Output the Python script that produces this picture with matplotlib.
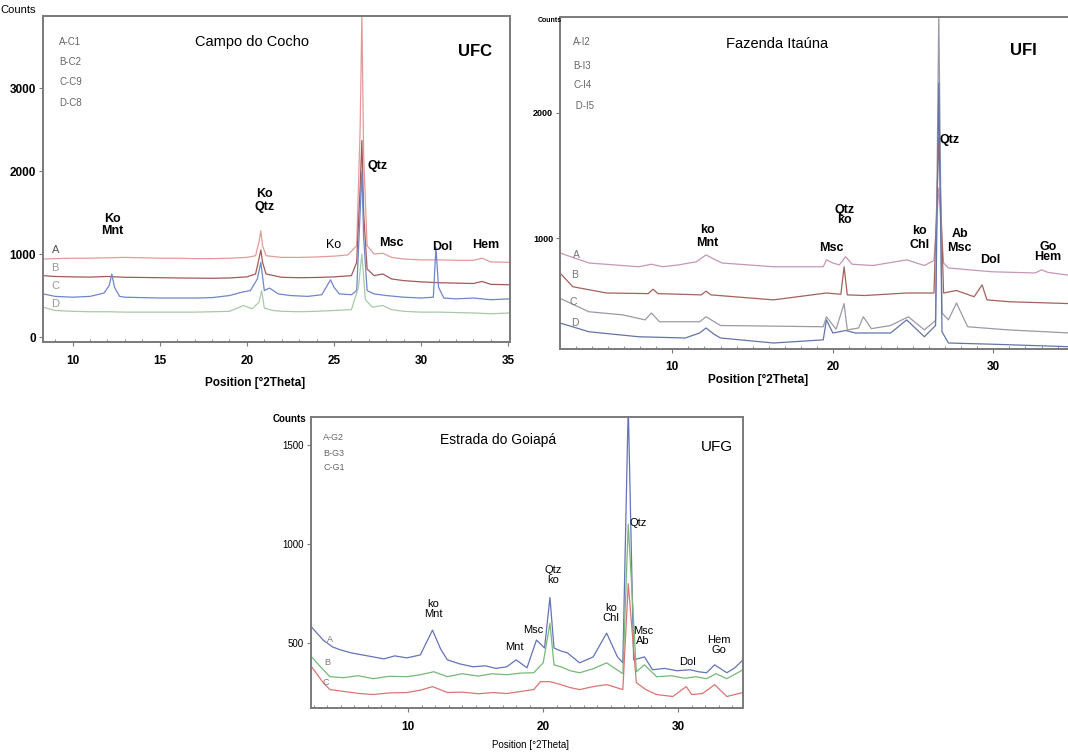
import matplotlib
matplotlib.use("Agg")
import matplotlib.pyplot as plt
from matplotlib.ticker import MultipleLocator

plt.rcParams["font.family"] = ["Liberation Sans Narrow", "Liberation Sans", "DejaVu Sans"]

# ---------------- Campo do Cocho (UFC) ----------------
ufc_a_x = [8.3, 9, 10, 11, 12, 13, 14, 15, 16, 17, 18, 19, 20, 20.5, 20.7, 20.8, 20.9, 21.1, 22, 23, 24, 25,
           25.8, 26.3, 26.5, 26.6, 26.7, 26.9, 27.3, 27.8, 28.3, 29, 30, 31, 32, 33, 33.5, 34, 35.1]
ufc_a_y = [940, 945, 950, 950, 955, 960, 955, 950, 950, 945, 945, 950, 960, 980, 1150, 1280, 1100, 980, 960, 960,
           965, 975, 990, 1100, 2500, 3900, 2200, 1100, 1000, 1010, 960, 940, 930, 930, 925, 925, 950, 905, 900]
ufc_b_x = [8.3, 9, 10, 11, 12, 13, 14, 15, 16, 17, 18, 19, 20, 20.5, 20.7, 20.8, 20.9, 21.1, 22, 23, 24, 25,
           26, 26.3, 26.5, 26.6, 26.7, 26.9, 27.3, 27.8, 28.3, 29, 30, 31, 32, 33, 33.5, 34, 35.1]
ufc_b_y = [740, 730, 725, 722, 730, 720, 718, 715, 712, 710, 708, 712, 725, 760, 950, 1050, 900, 760, 720, 715,
           718, 725, 740, 900, 1800, 2370, 1500, 820, 740, 760, 700, 680, 665, 655, 650, 645, 670, 635, 630]
ufc_c_x = [8.3, 9, 10, 11, 11.8, 12.1, 12.25, 12.4, 12.7, 13, 14, 15, 16, 17, 18, 19, 19.7, 20.2, 20.6, 20.8,
           21, 21.3, 21.8, 22.5, 23.5, 24.3, 24.8, 25.0, 25.3, 26, 26.3, 26.5, 26.6, 26.7, 26.9, 27.3, 28, 29,
           30, 30.7, 30.85, 31.0, 31.3, 32, 33, 34, 35.1]
ufc_c_y = [520, 490, 480, 490, 530, 620, 760, 600, 490, 480, 475, 470, 470, 470, 475, 500, 540, 560, 700, 900,
           560, 590, 520, 500, 490, 510, 690, 600, 520, 510, 560, 1500, 2000, 1200, 560, 520, 500, 480,
           470, 480, 1080, 600, 470, 460, 470, 450, 460]
ufc_d_x = [8.3, 9, 10, 11, 12, 13, 14, 15, 16, 17, 18, 19, 19.8, 20.3, 20.7, 20.85, 21, 21.5, 22, 23, 24, 25,
           26, 26.4, 26.6, 26.8, 27.2, 27.8, 28.3, 29, 30, 31, 32, 33, 34, 35.1]
ufc_d_y = [360, 320, 310, 305, 305, 300, 300, 300, 300, 300, 305, 310, 380, 340, 420, 560, 350, 320, 310, 305,
           310, 320, 330, 600, 1000, 450, 360, 380, 330, 310, 300, 300, 295, 290, 280, 290]

# ---------------- Fazenda Itaúna (UFI) ----------------
ufi_a_x = [3.0, 4.8, 7.9, 8.7, 9.4, 10.4, 11.5, 12.1, 12.6, 13.1, 16.3, 19.4, 19.6, 20.0, 20.4, 20.8, 21.2,
           22.5, 24.6, 25.7, 26.3, 26.6, 26.9, 27.2, 29.9, 32.6, 33.0, 33.4, 34.8]
ufi_a_y = [880, 800, 770, 790, 770, 785, 810, 865, 830, 800, 770, 770, 825, 800, 785, 850, 790,
           780, 825, 780, 820, 1400, 800, 760, 730, 720, 745, 725, 700]
ufi_b_x = [3.0, 3.8, 5.9, 8.5, 8.8, 9.1, 11.8, 12.1, 12.4, 16.3, 19.6, 20.5, 20.7, 20.9, 22.0, 24.6, 26.3,
           26.6, 26.9, 27.7, 28.8, 29.3, 29.6, 31.0, 34.8]
ufi_b_y = [720, 610, 560, 555, 590, 555, 545, 575, 545, 505, 560, 550, 770, 545, 540, 560, 560,
           1800, 560, 580, 530, 625, 505, 490, 475]
ufi_c_x = [3.0, 4.8, 6.9, 8.3, 8.7, 9.2, 11.7, 12.1, 13.0, 19.4, 19.6, 20.2, 20.7, 20.9, 21.6, 21.9, 22.4,
           23.6, 24.7, 25.7, 26.4, 26.6, 26.8, 27.2, 27.7, 28.4, 30.9, 34.8]
ufi_c_y = [517, 410, 385, 345, 400, 330, 330, 370, 300, 290, 370, 270, 475, 265, 280, 370, 275,
           300, 370, 265, 340, 2800, 400, 345, 480, 290, 265, 240]
ufi_d_x = [3.0, 4.8, 7.9, 10.8, 11.7, 12.1, 12.6, 13.0, 16.3, 19.4, 19.6, 20.0, 20.8, 21.4, 23.6, 24.6, 25.7,
           26.4, 26.6, 26.8, 27.2, 30.0, 34.8]
ufi_d_y = [320, 250, 210, 200, 240, 280, 230, 200, 160, 185, 345, 240, 260, 240, 240, 345, 210,
           300, 2240, 250, 160, 150, 130]

# ---------------- Estrada do Goiapá (UFG) ----------------
ufg_a_x = [2.85, 3.7, 4.4, 5.0, 5.8, 6.6, 7.4, 8.2, 9.0, 9.9, 10.9, 11.8, 12.4, 12.9, 13.8, 14.8, 15.7, 16.5,
           17.3, 18.0, 18.8, 19.5, 20.1, 20.5, 20.8, 21.3, 21.8, 22.7, 23.7, 24.7, 25.5, 25.9, 26.3, 26.7,
           27.5, 28.1, 29.0, 29.9, 30.9, 31.5, 32.1, 32.7, 33.6, 34.2, 34.8]
ufg_a_y = [580, 515, 480, 465, 450, 440, 430, 420, 435, 425, 440, 565, 470, 415, 395, 380, 385, 372,
           380, 415, 375, 515, 475, 730, 475, 460, 450, 400, 430, 550, 430, 400, 1700, 415,
           430, 365, 372, 360, 365, 355, 350, 390, 350, 375, 415]
ufg_b_x = [2.85, 3.5, 4.2, 5.2, 6.3, 7.4, 8.6, 9.9, 10.9, 11.9, 12.9, 14.0, 15.2, 16.2, 17.3, 18.3, 19.3, 20.0,
           20.5, 20.8, 21.3, 22.0, 22.7, 23.7, 24.7, 25.9, 26.3, 26.9, 27.5, 28.4, 29.5, 30.5, 31.3, 32.1,
           32.8, 33.6, 34.8]
ufg_b_y = [430, 380, 330, 325, 335, 320, 332, 330, 340, 355, 330, 345, 333, 345, 340, 348, 350, 400,
           600, 390, 380, 360, 350, 370, 400, 345, 1100, 355, 390, 330, 335, 322, 330, 320,
           345, 320, 365]
ufg_c_x = [2.85, 3.7, 4.2, 5.3, 6.4, 7.4, 8.6, 9.9, 10.9, 11.8, 12.9, 14.0, 15.2, 16.3, 17.3, 18.3, 19.3, 19.8,
           20.5, 21.3, 22.0, 22.7, 23.7, 24.7, 25.9, 26.3, 26.9, 27.6, 28.4, 29.6, 30.6, 31.0, 31.8, 32.7,
           33.6, 34.8]
ufg_c_y = [380, 300, 265, 255, 245, 240, 248, 250, 262, 280, 250, 252, 244, 250, 245, 255, 265, 305,
           305, 290, 275, 265, 280, 290, 265, 800, 300, 265, 240, 230, 280, 240, 245, 290,
           230, 250]

GRAY = "#7a7a7a"


def style_axes(ax, xlim, ylim, yticks, xticks, bold_y):
    ax.set_xlim(*xlim)
    ax.set_ylim(*ylim)
    for s in ax.spines.values():
        s.set_color(GRAY)
        s.set_linewidth(1.4)
    ax.set_yticks(yticks)
    ax.set_xticks(xticks)
    ax.xaxis.set_minor_locator(MultipleLocator(1))
    ax.tick_params(axis="both", which="major", direction="out", length=3, color=GRAY,
                   labelsize=8.5, pad=2)
    ax.tick_params(axis="x", which="minor", direction="in", length=2.5, color=GRAY)
    ax.tick_params(axis="x", which="major", pad=6)
    for lab in ax.get_xticklabels():
        lab.set_fontweight("bold")
    if bold_y:
        for lab in ax.get_yticklabels():
            lab.set_fontweight("bold")


fig = plt.figure(figsize=(10.68, 7.53), dpi=100)
W, H = 1068, 753


def add_axes_px(left, top, right, bottom):
    return fig.add_axes([left / W, 1 - bottom / H, (right - left) / W, (bottom - top) / H])


# ---- panel 1 ----
ax1 = add_axes_px(43, 16, 510, 342)
ax1.plot(ufc_a_x, ufc_a_y, color="#e49a9a", lw=0.9)
ax1.plot(ufc_b_x, ufc_b_y, color="#a35a5a", lw=0.9)
ax1.plot(ufc_c_x, ufc_c_y, color="#6f86c8", lw=0.9)
ax1.plot(ufc_d_x, ufc_d_y, color="#a9c9a9", lw=0.9)
style_axes(ax1, (8.3, 35.1), (-60, 3870), [0, 1000, 2000, 3000], [10, 15, 20, 25, 30, 35], True)
for lbl, y in zip(["A-C1", "B-C2", "C-C9", "D-C8"], [0.92, 0.859, 0.798, 0.733]):
    ax1.text(0.035, y, lbl, transform=ax1.transAxes, fontsize=7, color="#666666", va="center")
ax1.text(0.448, 0.92, "Campo do Cocho", transform=ax1.transAxes, fontsize=10.5, ha="center", va="center")
ax1.text(0.925, 0.89, "UFC", transform=ax1.transAxes, fontsize=12, fontweight="bold", ha="center", va="center")
for txt, x, y in [("A", 9.0, 1050), ("B", 9.0, 830), ("C", 9.0, 615), ("D", 9.0, 400)]:
    ax1.text(x, y, txt, fontsize=8, color="#555555" if txt == "A" else "#999999", ha="center", va="center")
for txt, x, y, w in [("Ko\nMnt", 12.3, 1350, "bold"), ("Ko\nQtz", 21.0, 1650, "bold"),
                     ("Qtz", 27.5, 2060, "bold"), ("Ko", 24.95, 1110, "normal"),
                     ("Msc", 28.3, 1130, "bold"), ("Dol", 31.2, 1080, "bold"),
                     ("Hem", 33.7, 1110, "bold")]:
    ax1.text(x, y, txt, fontsize=9, fontweight=w, ha="center", va="center", linespacing=1.1)
fig.text(0 / W, 1 - 10 / H, "Counts", fontsize=8, va="center", ha="left")
fig.text(255 / W, 1 - 383 / H, "Position [°2Theta]", fontsize=8.5, fontweight="bold", ha="center", va="center")

# ---- panel 2 ----
ax2 = add_axes_px(560, 17, 1072, 349)
ax2.plot(ufi_a_x, ufi_a_y, color="#c796b8", lw=0.9)
ax2.plot(ufi_b_x, ufi_b_y, color="#a3625a", lw=0.9)
ax2.plot(ufi_c_x, ufi_c_y, color="#9a9aaa", lw=0.9)
ax2.plot(ufi_d_x, ufi_d_y, color="#6574a6", lw=0.9)
style_axes(ax2, (3.0, 34.9), (112, 2768), [1000, 2000], [10, 20, 30], True)
ax2.set_yticklabels(["1000", "2000"], fontsize=6.5)
for lbl, y in zip(["A-I2", "B-I3", "C-I4", " D-I5"], [0.925, 0.852, 0.795, 0.732]):
    ax2.text(0.026, y, lbl, transform=ax2.transAxes, fontsize=7, color="#666666", va="center")
ax2.text(0.423, 0.92, "Fazenda Itaúna", transform=ax2.transAxes, fontsize=10.5, ha="center", va="center")
ax2.text(0.905, 0.90, "UFI", transform=ax2.transAxes, fontsize=12, fontweight="bold", ha="center", va="center")
for txt, x, y in [("A", 4.0, 865), ("B", 3.9, 705), ("C", 3.8, 490), ("D", 3.9, 320)]:
    ax2.text(x, y, txt, fontsize=7.5, color="#777777", ha="center", va="center")
for txt, x, y, ls in [("ko\nMnt", 12.2, 1015, 1.1), ("Qtz\nko", 20.75, 1185, 0.75), ("Msc", 19.9, 920, 1.0),
                      ("ko\nChl", 25.4, 1000, 1.3), ("Qtz", 27.3, 1785, 1.0), ("Ab\nMsc", 27.9, 975, 1.3),
                      ("Dol", 29.8, 825, 1.0), ("Go\nHem", 33.4, 890, 0.75)]:
    ax2.text(x, y, txt, fontsize=9, fontweight="bold", ha="center", va="center", linespacing=ls)
fig.text(538 / W, 1 - 20 / H, "Counts", fontsize=5, fontweight="bold", va="center", ha="left")
fig.text(758 / W, 1 - 380 / H, "Position [°2Theta]", fontsize=8.5, fontweight="bold", ha="center", va="center")

# ---- panel 3 ----
ax3 = add_axes_px(311, 417, 743, 708)
ax3.plot(ufg_a_x, ufg_a_y, color="#6474b8", lw=0.9)
ax3.plot(ufg_b_x, ufg_b_y, color="#78b878", lw=0.9)
ax3.plot(ufg_c_x, ufg_c_y, color="#dc7474", lw=0.9)
style_axes(ax3, (2.8, 34.8), (172, 1641), [500, 1000, 1500], [10, 20, 30], False)
ax3.tick_params(axis="y", labelsize=7)
for lbl, y in zip(["A-G2", "B-G3", "C-G1"], [0.931, 0.876, 0.825]):
    ax3.text(0.028, y, lbl, transform=ax3.transAxes, fontsize=6.5, color="#666666", va="center")
ax3.text(0.433, 0.921, "Estrada do Goiapá", transform=ax3.transAxes, fontsize=10, ha="center", va="center")
ax3.text(0.94, 0.897, "UFG", transform=ax3.transAxes, fontsize=11, ha="center", va="center")
for txt, x, y in [("A", 4.2, 520), ("B", 4.0, 400), ("C", 3.9, 300)]:
    ax3.text(x, y, txt, fontsize=6.5, color="#777777", ha="center", va="center")
for txt, x, y in [("ko\nMnt", 11.85, 672), ("Mnt", 17.9, 480), ("Msc", 19.3, 565), ("Qtz\nko", 20.75, 842),
                  ("ko\nChl", 25.0, 652), ("Qtz", 27.0, 1105), ("Msc\nAb", 27.4, 535), ("Dol", 30.7, 405),
                  ("Hem\nGo", 33.0, 490)]:
    ax3.text(x, y, txt, fontsize=8, ha="center", va="center", linespacing=1.0)
fig.text(273 / W, 1 - 419 / H, "Counts", fontsize=7, fontweight="bold", va="center", ha="left")
fig.text(530 / W, 1 - 745 / H, "Position [°2Theta]", fontsize=7, ha="center", va="center")

fig.savefig("out.png", dpi=100)
